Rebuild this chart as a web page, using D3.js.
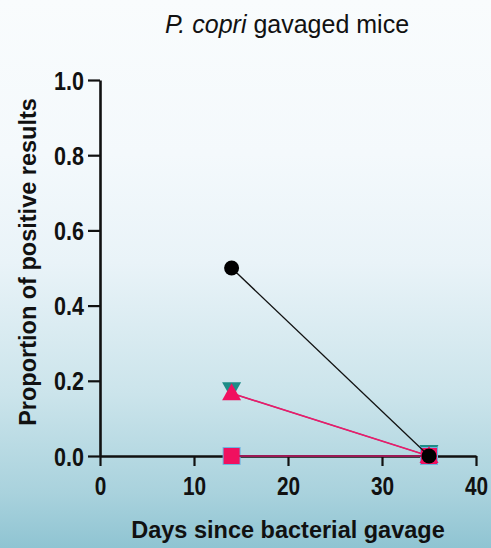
<!DOCTYPE html>
<html>
<head>
<meta charset="utf-8">
<script src="https://cdn.jsdelivr.net/npm/d3@7"></script>
<style>
  body { margin: 0; }
  svg { display: block; }
  text { font-family: "Liberation Sans", Arial, sans-serif; fill: #111; }
</style>
</head>
<body>
<svg id="chart"></svg>
<script>
// data
var days = [14, 35];
var blueSquare   = [0, 0];
var pinkSquare   = [0, 0];
var tealTriangle = [0.1667, 0];
var pinkTriangle = [0.1667, 0];
var blackCircle  = [0.5, 0];

var xTicks = [0, 10, 20, 30, 40];
var yTicks = [0, 0.2, 0.4, 0.6, 0.8, 1.0];

var width = 491, height = 548;
var svg = d3.select("#chart").attr("width", width).attr("height", height);

// background gradient
var grad = svg.append("defs").append("linearGradient")
    .attr("id", "bg").attr("x1", 0).attr("y1", 0).attr("x2", 0).attr("y2", 1);
grad.append("stop").attr("offset", "0%").attr("stop-color", "#f9fcfd");
grad.append("stop").attr("offset", "28%").attr("stop-color", "#f4f9fc");
grad.append("stop").attr("offset", "48%").attr("stop-color", "#e9f3f8");
grad.append("stop").attr("offset", "72%").attr("stop-color", "#cbe4eb");
grad.append("stop").attr("offset", "90%").attr("stop-color", "#a9d2dd");
grad.append("stop").attr("offset", "100%").attr("stop-color", "#8fc4d2");
svg.append("rect").attr("width", width).attr("height", height).attr("fill", "url(#bg)");

var x = d3.scaleLinear().domain([0, 40]).range([100, 476]);
var y = d3.scaleLinear().domain([0, 1]).range([456, 80]);

// squeeze text horizontally, the figure uses a narrow face
function narrow(sel, k) {
  sel.each(function() {
    var w = this.getComputedTextLength();
    d3.select(this).attr("textLength", w * k).attr("lengthAdjust", "spacingAndGlyphs");
  });
}

// axes
var xAxis = svg.append("g")
    .attr("transform", "translate(0," + y(0) + ")")
    .call(d3.axisBottom(x).tickValues(xTicks).tickSize(10).tickPadding(11).tickSizeOuter(0));
var yAxis = svg.append("g")
    .attr("transform", "translate(" + x(0) + ",0)")
    .call(d3.axisLeft(y).tickValues(yTicks).tickFormat(d3.format(".1f")).tickSize(12).tickPadding(4).tickSizeOuter(0));

[xAxis, yAxis].forEach(function(a) {
  a.select(".domain").attr("stroke", "#111").attr("stroke-width", 2.6);
  a.selectAll(".tick line").attr("stroke", "#111").attr("stroke-width", 2.2);
  a.selectAll(".tick text").style("font-weight", "bold").attr("fill", "#111");
});
// x labels sit at x=0 of their tick, so a plain horizontal scale keeps them centred
xAxis.selectAll(".tick text").style("font-size", "26px").attr("transform", "scale(0.8,1)");
yAxis.selectAll(".tick text").style("font-size", "25px").attr("dy", "0.36em").call(narrow, 0.86);

// series
function lineOf(vals) {
  return d3.line().x(function(d, i) { return x(days[i]); }).y(function(d) { return y(d); })(vals);
}

var upTri = d3.line()([[0, -10], [9.5, 7], [-9.5, 7]]) + "Z";
var downTri = d3.line()([[-9.5, -11], [9.5, -11], [0, 6]]) + "Z";

// teal down triangles
svg.append("path").attr("d", lineOf(tealTriangle)).attr("fill", "none").attr("stroke", "#1f8a86").attr("stroke-width", 1.2);
svg.selectAll(".ttri").data(tealTriangle).enter().append("path")
    .attr("d", downTri)
    .attr("transform", function(d, i) { return "translate(" + x(days[i]) + "," + y(d) + ")"; })
    .attr("fill", "#1e8c87");

// blue squares
svg.append("path").attr("d", lineOf(blueSquare)).attr("fill", "none").attr("stroke", "#5aa9d6").attr("stroke-width", 1.5);
svg.selectAll(".bsq").data(blueSquare).enter().append("rect")
    .attr("x", function(d, i) { return x(days[i]) - 9; })
    .attr("y", function(d) { return y(d) - 9; })
    .attr("width", 18).attr("height", 18).attr("fill", "#6cb4e0");

// pink squares
svg.append("path").attr("d", lineOf(pinkSquare)).attr("fill", "none").attr("stroke", "#9b1a55").attr("stroke-width", 2.2);
svg.selectAll(".psq").data(pinkSquare).enter().append("rect")
    .attr("x", function(d, i) { return x(days[i]) - 8; })
    .attr("y", function(d) { return y(d) - 8; })
    .attr("width", 16).attr("height", 16).attr("fill", "#f0105f");

// pink up triangles
svg.append("path").attr("d", lineOf(pinkTriangle)).attr("fill", "none").attr("stroke", "#f0186a").attr("stroke-width", 1.6);
svg.selectAll(".ptri").data(pinkTriangle).enter().append("path")
    .attr("d", upTri)
    .attr("transform", function(d, i) { return "translate(" + x(days[i]) + "," + y(d) + ")"; })
    .attr("fill", "#f0105f");

// black circles
svg.append("path").attr("d", lineOf(blackCircle)).attr("fill", "none").attr("stroke", "#111").attr("stroke-width", 1.3);
svg.selectAll(".bc").data(blackCircle).enter().append("circle")
    .attr("cx", function(d, i) { return x(days[i]); })
    .attr("cy", function(d) { return y(d); })
    .attr("r", 7.5).attr("fill", "#000");

// title
var title = svg.append("text").attr("x", 287).attr("y", 33).attr("text-anchor", "middle")
    .style("font-size", "25px");
title.append("tspan").style("font-style", "italic").text("P. copri");
title.append("tspan").text(" gavaged mice");

// axis titles
svg.append("text").attr("x", 288).attr("y", 538).attr("text-anchor", "middle")
    .style("font-size", "23.5px").style("font-weight", "bold")
    .text("Days since bacterial gavage");
svg.append("text").attr("transform", "translate(36,262) rotate(-90)").attr("text-anchor", "middle")
    .style("font-size", "23.5px").style("font-weight", "bold")
    .text("Proportion of positive results");
</script>
</body>
</html>
